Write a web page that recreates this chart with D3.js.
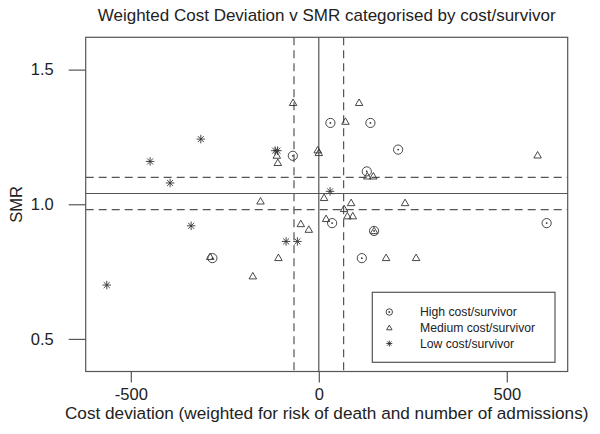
<!DOCTYPE html>
<html><head><meta charset="utf-8">
<script src="https://cdn.jsdelivr.net/npm/d3@7"></script>
<style>body{margin:0;background:#fff}</style>
</head><body>
<svg id="c" width="600" height="434"></svg>
<script>
const highX = [30.9, 137.3, -69.1, 211, 127.6, -283, 35.4, 147, 114.4, 606];
const highY = [1.302, 1.302, 1.18, 1.203, 1.122, 0.80, 0.93, 0.901, 0.80, 0.93];
const medX = [-68.4, 70.8, 107.2, -111.7, -109, -3, 0, 129, 145, 582, -155, -289, -175.5, 14, 86, 229.5, 67.3, 76, 90.4, 19.4, -47.9, -26.6, 147, -107.4, 179, 258.8];
const medY = [1.376, 1.306, 1.376, 1.18, 1.153, 1.20, 1.19, 1.103, 1.103, 1.181, 1.01, 0.804, 0.732, 1.023, 1.004, 1.004, 0.982, 0.955, 0.955, 0.945, 0.926, 0.905, 0.90, 0.80, 0.80, 0.80];
const lowX = [-448.7, -313.8, -116, -110, -395.5, -339.6, -564, 30, -87, -57];
const lowY = [1.159, 1.242, 1.199, 1.199, 1.079, 0.92, 0.70, 1.048, 0.862, 0.862];
const xTicks = [-500, 0, 500];
const yTicks = [0.5, 1.0, 1.5];
const hLines = [1.04];
const hDashed = [1.10, 0.98];
const vLines = [0];
const vDashed = [-66, 66];
const legendLabels = ["High cost/survivor", "Medium cost/survivor", "Low cost/survivor"];
const titleText = "Weighted Cost Deviation v SMR categorised by cost/survivor";
const xLabel = "Cost deviation (weighted for risk of death and number of admissions)";
const yLabel = "SMR";

const svg = d3.select("#c");
const L = 85.7, R = 567.7, T = 37.3, B = 371.5;
const x = d3.scaleLinear().domain([-620, 662]).range([L, R]);
const y = d3.scaleLinear().domain([0.379, 1.62]).range([B, T]);
const font = "Arial, 'Liberation Sans', sans-serif";
const lineCol = "#555";
const ptCol = "#333";

// reference lines
const g = svg.append("g");
g.selectAll(".hl").data(hLines).join("line")
  .attr("x1", L).attr("x2", R).attr("y1", d => y(d)).attr("y2", d => y(d))
  .attr("stroke", lineCol).attr("stroke-width", 1.2);
g.selectAll(".hd").data(hDashed).join("line")
  .attr("x1", L).attr("x2", R).attr("y1", d => y(d)).attr("y2", d => y(d))
  .attr("stroke", lineCol).attr("stroke-width", 1.2).attr("stroke-dasharray", "8,5");
g.selectAll(".vl").data(vLines).join("line")
  .attr("y1", T).attr("y2", B).attr("x1", d => x(d)).attr("x2", d => x(d))
  .attr("stroke", lineCol).attr("stroke-width", 1.2);
g.selectAll(".vd").data(vDashed).join("line")
  .attr("y1", T).attr("y2", B).attr("x1", d => x(d)).attr("x2", d => x(d))
  .attr("stroke", lineCol).attr("stroke-width", 1.2).attr("stroke-dasharray", "8,5");

// symbols
function circ(sel, r) {
  sel.append("circle").attr("r", r).attr("fill", "none").attr("stroke", ptCol).attr("stroke-width", 0.9);
  sel.append("circle").attr("r", 0.9).attr("fill", ptCol);
}
function tri(sel, s) {
  const h = s * 0.866;
  sel.append("path").attr("d", `M0,${-h*0.62}L${s/2},${h*0.38}L${-s/2},${h*0.38}Z`)
    .attr("fill", "none").attr("stroke", ptCol).attr("stroke-width", 0.9);
}
function star(sel, s) {
  const a = s / 2, b = a * 0.707;
  sel.append("path").attr("d", `M${-a},0H${a}M0,${-a}V${a}M${-b},${-b}L${b},${b}M${-b},${b}L${b},${-b}`)
    .attr("stroke", ptCol).attr("stroke-width", 0.9);
}

const pts = svg.append("g");
pts.selectAll(".h").data(d3.range(highX.length)).join("g")
  .attr("transform", i => `translate(${x(highX[i])},${y(highY[i])})`).each(function(){ circ(d3.select(this), 4.6); });
pts.selectAll(".m").data(d3.range(medX.length)).join("g")
  .attr("transform", i => `translate(${x(medX[i])},${y(medY[i])})`).each(function(){ tri(d3.select(this), 7.5); });
pts.selectAll(".l").data(d3.range(lowX.length)).join("g")
  .attr("transform", i => `translate(${x(lowX[i])},${y(lowY[i])})`).each(function(){ star(d3.select(this), 8.5); });

// box
svg.append("rect").attr("x", L).attr("y", T).attr("width", R - L).attr("height", B - T)
  .attr("fill", "none").attr("stroke", "#555").attr("stroke-width", 1.2);

// axes
const xa = svg.append("g").attr("transform", `translate(0,${B})`)
  .call(d3.axisBottom(x).tickValues(xTicks).tickSize(11).tickPadding(6).tickFormat(d3.format("d")));
const ya = svg.append("g").attr("transform", `translate(${L},0)`)
  .call(d3.axisLeft(y).tickValues(yTicks).tickSize(17).tickPadding(15).tickFormat(d3.format(".1f")));
[xa, ya].forEach(a => {
  a.select(".domain").remove();
  a.selectAll("line").attr("stroke", "#555").attr("stroke-width", 1.2);
  a.selectAll("text").attr("font-family", font).attr("font-size", 16.5).attr("fill", "#222");
});
xa.selectAll("text").text(d => d < 0 ? "-" + Math.abs(d) : d);

// labels
svg.append("text").attr("x", (L + R) / 2).attr("y", 21).attr("text-anchor", "middle")
  .attr("font-family", font).attr("font-size", 17).attr("fill", "#222").text(titleText);
svg.append("text").attr("x", (L + R) / 2).attr("y", 419).attr("text-anchor", "middle")
  .attr("font-family", font).attr("font-size", 17.2).attr("fill", "#222").text(xLabel);
svg.append("text").attr("transform", `translate(22,${(T + B) / 2}) rotate(-90)`).attr("text-anchor", "middle")
  .attr("font-family", font).attr("font-size", 16.5).attr("fill", "#222").text(yLabel);

// legend
const lg = svg.append("g");
lg.append("rect").attr("x", 372.3).attr("y", 292.3).attr("width", 182.7).attr("height", 70)
  .attr("fill", "#fff").attr("stroke", "#555").attr("stroke-width", 1.2);
const rowsY = [312, 328, 343.5];
legendLabels.forEach((lab, i) => {
  const s = lg.append("g").attr("transform", `translate(389.3,${rowsY[i]})`);
  if (i === 0) circ(s, 3.2); else if (i === 1) tri(s, 5.5); else star(s, 6);
  lg.append("text").attr("x", 420).attr("y", rowsY[i]).attr("dy", "0.35em")
    .attr("font-family", font).attr("font-size", 12.2).attr("fill", "#222").text(lab);
});
</script>
</body></html>
